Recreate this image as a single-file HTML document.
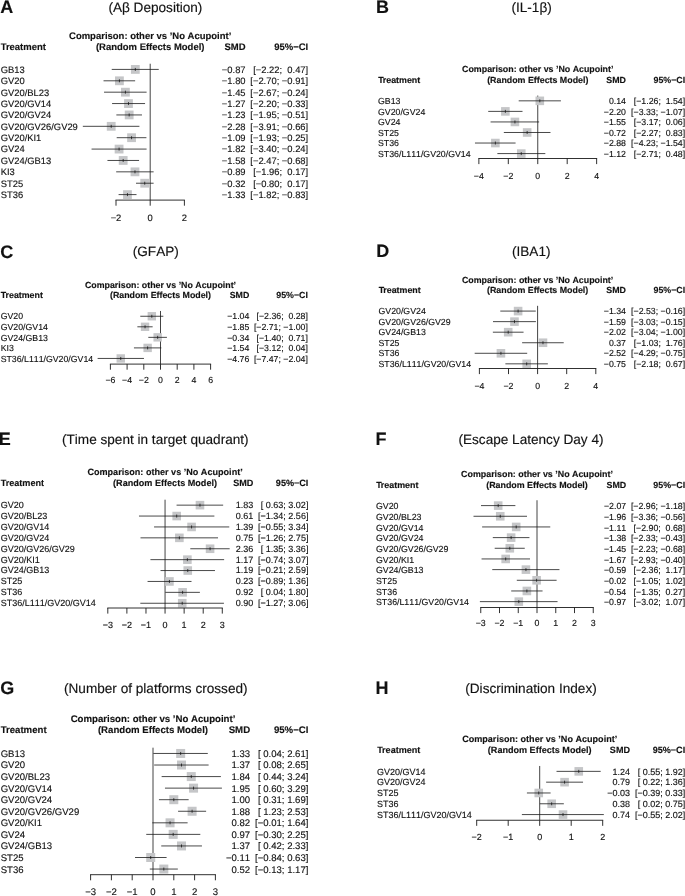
<!DOCTYPE html>
<html lang="en">
<head>
<meta charset="utf-8">
<title>Forest plots: acupoint comparisons vs No Acupoint</title>
<style>
html,body{margin:0;padding:0;background:#fff;}
body{width:685px;height:896px;overflow:hidden;}
svg{display:block;font-family:"Liberation Sans",sans-serif;fill:#111;}
svg text{white-space:pre;text-rendering:geometricPrecision;font-kerning:none;font-variant-ligatures:none;stroke:#111;stroke-width:0.14px;stroke-linejoin:round;}
</style>
</head>
<body>
<svg width="685" height="896" viewBox="0 0 685 896">
<rect x="0" y="0" width="685" height="896" fill="#ffffff"/>
<g style="will-change:opacity">
<g font-size="9.4">
<text x="0.2" y="12.9" font-size="18" font-weight="bold">A</text>
<text x="155.4" y="12" font-size="13.6" text-anchor="middle">(Aβ Deposition)</text>
<g font-weight="bold" font-size="9.49">
<text x="150.2" y="38.66" text-anchor="middle">Comparison: other vs ’No Acupoint’</text>
<text x="150.2" y="50.04" text-anchor="middle">(Random Effects Model)</text>
<text x="0.85" y="50.04">T<tspan dx="-0.08em">reatment</tspan></text>
<text x="245.6" y="50.04" text-anchor="end">SMD</text>
<text x="308.2" y="50.04" text-anchor="end">95%−CI</text>
</g>
<line x1="150.2" y1="63.73" x2="150.2" y2="200.1" stroke="#444" stroke-width="1"/>
<text x="0.7" y="72.8">GB13</text>
<text x="245.6" y="72.8" text-anchor="end">−0.87</text>
<text x="308.2" y="72.8" text-anchor="end" xml:space="preserve">[−2.22;  0.47]</text>
<rect x="130.92" y="65.02" width="8.8" height="8.8" fill="#c5c6c8"/>
<line x1="112.24" y1="69.42" x2="158.24" y2="69.42" stroke="#1a1a1a" stroke-width="0.8" stroke-linecap="square"/>
<line x1="135.32" y1="67.92" x2="135.32" y2="70.92" stroke="#111" stroke-width="0.75"/>
<text x="0.7" y="84.18">GV20</text>
<text x="245.6" y="84.18" text-anchor="end">−1.80</text>
<text x="308.2" y="84.18" text-anchor="end" xml:space="preserve">[−2.70; −0.91]</text>
<rect x="115.02" y="76.4" width="8.8" height="8.8" fill="#c5c6c8"/>
<line x1="104.03" y1="80.8" x2="134.64" y2="80.8" stroke="#1a1a1a" stroke-width="0.8" stroke-linecap="square"/>
<line x1="119.42" y1="79.3" x2="119.42" y2="82.3" stroke="#111" stroke-width="0.75"/>
<text x="0.7" y="95.56">GV20/BL23</text>
<text x="245.6" y="95.56" text-anchor="end">−1.45</text>
<text x="308.2" y="95.56" text-anchor="end" xml:space="preserve">[−2.67; −0.24]</text>
<rect x="121" y="87.78" width="8.8" height="8.8" fill="#c5c6c8"/>
<line x1="104.54" y1="92.18" x2="146.1" y2="92.18" stroke="#1a1a1a" stroke-width="0.8" stroke-linecap="square"/>
<line x1="125.4" y1="90.68" x2="125.4" y2="93.68" stroke="#111" stroke-width="0.75"/>
<text x="0.7" y="106.94">GV20/GV14</text>
<text x="245.6" y="106.94" text-anchor="end">−1.27</text>
<text x="308.2" y="106.94" text-anchor="end" xml:space="preserve">[−2.20; −0.33]</text>
<rect x="124.08" y="99.16" width="8.8" height="8.8" fill="#c5c6c8"/>
<line x1="112.58" y1="103.56" x2="144.56" y2="103.56" stroke="#1a1a1a" stroke-width="0.8" stroke-linecap="square"/>
<line x1="128.48" y1="102.06" x2="128.48" y2="105.06" stroke="#111" stroke-width="0.75"/>
<text x="0.7" y="118.32">GV20/GV24</text>
<text x="245.6" y="118.32" text-anchor="end">−1.23</text>
<text x="308.2" y="118.32" text-anchor="end" xml:space="preserve">[−1.95; −0.51]</text>
<rect x="124.77" y="110.54" width="8.8" height="8.8" fill="#c5c6c8"/>
<line x1="116.85" y1="114.94" x2="141.48" y2="114.94" stroke="#1a1a1a" stroke-width="0.8" stroke-linecap="square"/>
<line x1="129.17" y1="113.44" x2="129.17" y2="116.44" stroke="#111" stroke-width="0.75"/>
<text x="0.7" y="129.7">GV20/GV26/GV29</text>
<text x="245.6" y="129.7" text-anchor="end">−2.28</text>
<text x="308.2" y="129.7" text-anchor="end" xml:space="preserve">[−3.91; −0.66]</text>
<rect x="106.81" y="121.92" width="8.8" height="8.8" fill="#c5c6c8"/>
<line x1="83.34" y1="126.32" x2="138.91" y2="126.32" stroke="#1a1a1a" stroke-width="0.8" stroke-linecap="square"/>
<line x1="111.21" y1="124.82" x2="111.21" y2="127.82" stroke="#111" stroke-width="0.75"/>
<text x="0.7" y="141.08">GV20/KI1</text>
<text x="245.6" y="141.08" text-anchor="end">−1.09</text>
<text x="308.2" y="141.08" text-anchor="end" xml:space="preserve">[−1.93; −0.25]</text>
<rect x="127.16" y="133.3" width="8.8" height="8.8" fill="#c5c6c8"/>
<line x1="117.2" y1="137.7" x2="145.92" y2="137.7" stroke="#1a1a1a" stroke-width="0.8" stroke-linecap="square"/>
<line x1="131.56" y1="136.2" x2="131.56" y2="139.2" stroke="#111" stroke-width="0.75"/>
<text x="0.7" y="152.46">GV24</text>
<text x="245.6" y="152.46" text-anchor="end">−1.82</text>
<text x="308.2" y="152.46" text-anchor="end" xml:space="preserve">[−3.40; −0.24]</text>
<rect x="114.68" y="144.68" width="8.8" height="8.8" fill="#c5c6c8"/>
<line x1="92.06" y1="149.08" x2="146.1" y2="149.08" stroke="#1a1a1a" stroke-width="0.8" stroke-linecap="square"/>
<line x1="119.08" y1="147.58" x2="119.08" y2="150.58" stroke="#111" stroke-width="0.75"/>
<text x="0.7" y="163.84">GV24/GB13</text>
<text x="245.6" y="163.84" text-anchor="end">−1.58</text>
<text x="308.2" y="163.84" text-anchor="end" xml:space="preserve">[−2.47; −0.68]</text>
<rect x="118.78" y="156.06" width="8.8" height="8.8" fill="#c5c6c8"/>
<line x1="107.96" y1="160.46" x2="138.57" y2="160.46" stroke="#1a1a1a" stroke-width="0.8" stroke-linecap="square"/>
<line x1="123.18" y1="158.96" x2="123.18" y2="161.96" stroke="#111" stroke-width="0.75"/>
<text x="0.7" y="175.22">KI3</text>
<text x="245.6" y="175.22" text-anchor="end">−0.89</text>
<text x="308.2" y="175.22" text-anchor="end" xml:space="preserve">[−1.96;  0.17]</text>
<rect x="130.58" y="167.44" width="8.8" height="8.8" fill="#c5c6c8"/>
<line x1="116.68" y1="171.84" x2="153.11" y2="171.84" stroke="#1a1a1a" stroke-width="0.8" stroke-linecap="square"/>
<line x1="134.98" y1="170.34" x2="134.98" y2="173.34" stroke="#111" stroke-width="0.75"/>
<text x="0.7" y="186.6">ST25</text>
<text x="245.6" y="186.6" text-anchor="end">−0.32</text>
<text x="308.2" y="186.6" text-anchor="end" xml:space="preserve">[−0.80;  0.17]</text>
<rect x="140.33" y="178.82" width="8.8" height="8.8" fill="#c5c6c8"/>
<line x1="136.52" y1="183.22" x2="153.11" y2="183.22" stroke="#1a1a1a" stroke-width="0.8" stroke-linecap="square"/>
<line x1="144.73" y1="181.72" x2="144.73" y2="184.72" stroke="#111" stroke-width="0.75"/>
<text x="0.7" y="197.98">ST36</text>
<text x="245.6" y="197.98" text-anchor="end">−1.33</text>
<text x="308.2" y="197.98" text-anchor="end" xml:space="preserve">[−1.82; −0.83]</text>
<rect x="123.06" y="190.2" width="8.8" height="8.8" fill="#c5c6c8"/>
<line x1="119.08" y1="194.6" x2="136.01" y2="194.6" stroke="#1a1a1a" stroke-width="0.8" stroke-linecap="square"/>
<line x1="127.46" y1="193.1" x2="127.46" y2="196.1" stroke="#111" stroke-width="0.75"/>
<g stroke="#1a1a1a" stroke-width="0.9" fill="none">
<line x1="116" y1="200.1" x2="184.4" y2="200.1" stroke-linecap="square"/>
<line x1="116" y1="200.1" x2="116" y2="205.7"/>
<line x1="150.2" y1="200.1" x2="150.2" y2="205.7"/>
<line x1="184.4" y1="200.1" x2="184.4" y2="205.7"/>
</g>
<text x="116" y="220.5" text-anchor="middle">−2</text>
<text x="150.2" y="220.5" text-anchor="middle">0</text>
<text x="184.4" y="220.5" text-anchor="middle">2</text>
</g>
<g font-size="8.77">
<text x="376" y="12.9" font-size="18" font-weight="bold">B</text>
<text x="531.6" y="11.7" font-size="13.6" text-anchor="middle">(IL-1β)</text>
<g font-weight="bold" font-size="8.86">
<text x="537.75" y="72.35" text-anchor="middle">Comparison: other vs ’No Acupoint’</text>
<text x="537.75" y="82.9" text-anchor="middle">(Random Effects Model)</text>
<text x="378.15" y="82.9">T<tspan dx="-0.08em">reatment</tspan></text>
<text x="626" y="82.9" text-anchor="end">SMD</text>
<text x="685.2" y="82.9" text-anchor="end">95%−CI</text>
</g>
<line x1="537.75" y1="95.57" x2="537.75" y2="158.5" stroke="#444" stroke-width="1"/>
<text x="378" y="104">GB13</text>
<text x="626" y="104" text-anchor="end">0.14</text>
<text x="685.2" y="104" text-anchor="end" xml:space="preserve">[−1.26;  1.54]</text>
<rect x="535.51" y="96.54" width="8.6" height="8.6" fill="#c5c6c8"/>
<line x1="519.2" y1="100.84" x2="560.42" y2="100.84" stroke="#1a1a1a" stroke-width="0.8" stroke-linecap="square"/>
<line x1="539.81" y1="99.34" x2="539.81" y2="102.34" stroke="#111" stroke-width="0.75"/>
<text x="378" y="114.55">GV20/GV24</text>
<text x="626" y="114.55" text-anchor="end">−2.20</text>
<text x="685.2" y="114.55" text-anchor="end" xml:space="preserve">[−3.33; −1.07]</text>
<rect x="501.07" y="107.09" width="8.6" height="8.6" fill="#c5c6c8"/>
<line x1="488.73" y1="111.39" x2="522" y2="111.39" stroke="#1a1a1a" stroke-width="0.8" stroke-linecap="square"/>
<line x1="505.37" y1="109.89" x2="505.37" y2="112.89" stroke="#111" stroke-width="0.75"/>
<text x="378" y="125.1">GV24</text>
<text x="626" y="125.1" text-anchor="end">−1.55</text>
<text x="685.2" y="125.1" text-anchor="end" xml:space="preserve">[−3.17;  0.06]</text>
<rect x="510.63" y="117.64" width="8.6" height="8.6" fill="#c5c6c8"/>
<line x1="491.09" y1="121.94" x2="538.63" y2="121.94" stroke="#1a1a1a" stroke-width="0.8" stroke-linecap="square"/>
<line x1="514.93" y1="120.44" x2="514.93" y2="123.44" stroke="#111" stroke-width="0.75"/>
<text x="378" y="135.65">ST25</text>
<text x="626" y="135.65" text-anchor="end">−0.72</text>
<text x="685.2" y="135.65" text-anchor="end" xml:space="preserve">[−2.27;  0.83]</text>
<rect x="522.85" y="128.19" width="8.6" height="8.6" fill="#c5c6c8"/>
<line x1="504.34" y1="132.49" x2="549.97" y2="132.49" stroke="#1a1a1a" stroke-width="0.8" stroke-linecap="square"/>
<line x1="527.15" y1="130.99" x2="527.15" y2="133.99" stroke="#111" stroke-width="0.75"/>
<text x="378" y="146.2">ST36</text>
<text x="626" y="146.2" text-anchor="end">−2.88</text>
<text x="685.2" y="146.2" text-anchor="end" xml:space="preserve">[−4.23; −1.54]</text>
<rect x="491.06" y="138.74" width="8.6" height="8.6" fill="#c5c6c8"/>
<line x1="475.48" y1="143.04" x2="515.08" y2="143.04" stroke="#1a1a1a" stroke-width="0.8" stroke-linecap="square"/>
<line x1="495.36" y1="141.54" x2="495.36" y2="144.54" stroke="#111" stroke-width="0.75"/>
<text x="378" y="156.75">ST36/L111/GV20/GV14</text>
<text x="626" y="156.75" text-anchor="end">−1.12</text>
<text x="685.2" y="156.75" text-anchor="end" xml:space="preserve">[−2.71;  0.48]</text>
<rect x="516.96" y="149.29" width="8.6" height="8.6" fill="#c5c6c8"/>
<line x1="497.86" y1="153.59" x2="544.82" y2="153.59" stroke="#1a1a1a" stroke-width="0.8" stroke-linecap="square"/>
<line x1="521.26" y1="152.09" x2="521.26" y2="155.09" stroke="#111" stroke-width="0.75"/>
<g stroke="#1a1a1a" stroke-width="0.9" fill="none">
<line x1="478.87" y1="158.5" x2="596.63" y2="158.5" stroke-linecap="square"/>
<line x1="478.87" y1="158.5" x2="478.87" y2="164.1"/>
<line x1="508.31" y1="158.5" x2="508.31" y2="164.1"/>
<line x1="537.75" y1="158.5" x2="537.75" y2="164.1"/>
<line x1="567.19" y1="158.5" x2="567.19" y2="164.1"/>
<line x1="596.63" y1="158.5" x2="596.63" y2="164.1"/>
</g>
<text x="478.87" y="179" text-anchor="middle">−4</text>
<text x="508.31" y="179" text-anchor="middle">−2</text>
<text x="537.75" y="179" text-anchor="middle">0</text>
<text x="567.19" y="179" text-anchor="middle">2</text>
<text x="596.63" y="179" text-anchor="middle">4</text>
</g>
<g font-size="8.75">
<text x="0.2" y="257.5" font-size="18" font-weight="bold">C</text>
<text x="155.8" y="256.2" font-size="13.6" text-anchor="middle">(GFAP)</text>
<g font-weight="bold" font-size="8.84">
<text x="160.5" y="287.75" text-anchor="middle">Comparison: other vs ’No Acupoint’</text>
<text x="160.5" y="298.3" text-anchor="middle">(Random Effects Model)</text>
<text x="0.85" y="298.3">T<tspan dx="-0.08em">reatment</tspan></text>
<text x="249.3" y="298.3" text-anchor="end">SMD</text>
<text x="307.9" y="298.3" text-anchor="end">95%−CI</text>
</g>
<line x1="160.5" y1="310.98" x2="160.5" y2="364.1" stroke="#444" stroke-width="1"/>
<text x="0.7" y="319.4">GV20</text>
<text x="249.3" y="319.4" text-anchor="end">−1.04</text>
<text x="307.9" y="319.4" text-anchor="end" xml:space="preserve">[−2.36;  0.28]</text>
<rect x="147.62" y="312.05" width="8.4" height="8.4" fill="#c5c6c8"/>
<line x1="140.79" y1="316.25" x2="162.84" y2="316.25" stroke="#1a1a1a" stroke-width="0.8" stroke-linecap="square"/>
<line x1="151.82" y1="314.75" x2="151.82" y2="317.75" stroke="#111" stroke-width="0.75"/>
<text x="0.7" y="329.95">GV20/GV14</text>
<text x="249.3" y="329.95" text-anchor="end">−1.85</text>
<text x="307.9" y="329.95" text-anchor="end" xml:space="preserve">[−2.71; −1.00]</text>
<rect x="140.85" y="322.6" width="8.4" height="8.4" fill="#c5c6c8"/>
<line x1="137.87" y1="326.8" x2="152.15" y2="326.8" stroke="#1a1a1a" stroke-width="0.8" stroke-linecap="square"/>
<line x1="145.05" y1="325.3" x2="145.05" y2="328.3" stroke="#111" stroke-width="0.75"/>
<text x="0.7" y="340.5">GV24/GB13</text>
<text x="249.3" y="340.5" text-anchor="end">−0.34</text>
<text x="307.9" y="340.5" text-anchor="end" xml:space="preserve">[−1.40;  0.71]</text>
<rect x="153.46" y="333.15" width="8.4" height="8.4" fill="#c5c6c8"/>
<line x1="148.81" y1="337.35" x2="166.43" y2="337.35" stroke="#1a1a1a" stroke-width="0.8" stroke-linecap="square"/>
<line x1="157.66" y1="335.85" x2="157.66" y2="338.85" stroke="#111" stroke-width="0.75"/>
<text x="0.7" y="351.05">KI3</text>
<text x="249.3" y="351.05" text-anchor="end">−1.54</text>
<text x="307.9" y="351.05" text-anchor="end" xml:space="preserve">[−3.12;  0.04]</text>
<rect x="143.44" y="343.7" width="8.4" height="8.4" fill="#c5c6c8"/>
<line x1="134.45" y1="347.9" x2="160.83" y2="347.9" stroke="#1a1a1a" stroke-width="0.8" stroke-linecap="square"/>
<line x1="147.64" y1="346.4" x2="147.64" y2="349.4" stroke="#111" stroke-width="0.75"/>
<text x="0.7" y="361.6">ST36/L111/GV20/GV14</text>
<text x="249.3" y="361.6" text-anchor="end">−4.76</text>
<text x="307.9" y="361.6" text-anchor="end" xml:space="preserve">[−7.47; −2.04]</text>
<rect x="116.55" y="354.25" width="8.4" height="8.4" fill="#c5c6c8"/>
<line x1="98.13" y1="358.45" x2="143.47" y2="358.45" stroke="#1a1a1a" stroke-width="0.8" stroke-linecap="square"/>
<line x1="120.75" y1="356.95" x2="120.75" y2="359.95" stroke="#111" stroke-width="0.75"/>
<g stroke="#1a1a1a" stroke-width="0.9" fill="none">
<line x1="110.4" y1="364.1" x2="210.6" y2="364.1" stroke-linecap="square"/>
<line x1="110.4" y1="364.1" x2="110.4" y2="369.7"/>
<line x1="127.1" y1="364.1" x2="127.1" y2="369.7"/>
<line x1="143.8" y1="364.1" x2="143.8" y2="369.7"/>
<line x1="160.5" y1="364.1" x2="160.5" y2="369.7"/>
<line x1="177.2" y1="364.1" x2="177.2" y2="369.7"/>
<line x1="193.9" y1="364.1" x2="193.9" y2="369.7"/>
<line x1="210.6" y1="364.1" x2="210.6" y2="369.7"/>
</g>
<text x="110.4" y="383.3" text-anchor="middle">−6</text>
<text x="127.1" y="383.3" text-anchor="middle">−4</text>
<text x="143.8" y="383.3" text-anchor="middle">−2</text>
<text x="160.5" y="383.3" text-anchor="middle">0</text>
<text x="177.2" y="383.3" text-anchor="middle">2</text>
<text x="193.9" y="383.3" text-anchor="middle">4</text>
<text x="210.6" y="383.3" text-anchor="middle">6</text>
</g>
<g font-size="8.77">
<text x="376.2" y="257.2" font-size="18" font-weight="bold">D</text>
<text x="531.25" y="256.25" font-size="13.6" text-anchor="middle">(IBA1)</text>
<g font-weight="bold" font-size="8.86">
<text x="537.6" y="282.6" text-anchor="middle">Comparison: other vs ’No Acupoint’</text>
<text x="537.6" y="293.15" text-anchor="middle">(Random Effects Model)</text>
<text x="378.65" y="293.15">T<tspan dx="-0.08em">reatment</tspan></text>
<text x="626" y="293.15" text-anchor="end">SMD</text>
<text x="685.2" y="293.15" text-anchor="end">95%−CI</text>
</g>
<line x1="537.6" y1="305.82" x2="537.6" y2="368.5" stroke="#444" stroke-width="1"/>
<text x="378.5" y="314.25">GV20/GV24</text>
<text x="626" y="314.25" text-anchor="end">−1.34</text>
<text x="685.2" y="314.25" text-anchor="end" xml:space="preserve">[−2.53; −0.16]</text>
<rect x="513.8" y="306.79" width="8.6" height="8.6" fill="#c5c6c8"/>
<line x1="500.79" y1="311.09" x2="535.27" y2="311.09" stroke="#1a1a1a" stroke-width="0.8" stroke-linecap="square"/>
<line x1="518.1" y1="309.59" x2="518.1" y2="312.59" stroke="#111" stroke-width="0.75"/>
<text x="378.5" y="324.8">GV20/GV26/GV29</text>
<text x="626" y="324.8" text-anchor="end">−1.59</text>
<text x="685.2" y="324.8" text-anchor="end" xml:space="preserve">[−3.03; −0.15]</text>
<rect x="510.17" y="317.34" width="8.6" height="8.6" fill="#c5c6c8"/>
<line x1="493.51" y1="321.64" x2="535.42" y2="321.64" stroke="#1a1a1a" stroke-width="0.8" stroke-linecap="square"/>
<line x1="514.47" y1="320.14" x2="514.47" y2="323.14" stroke="#111" stroke-width="0.75"/>
<text x="378.5" y="335.35">GV24/GB13</text>
<text x="626" y="335.35" text-anchor="end">−2.02</text>
<text x="685.2" y="335.35" text-anchor="end" xml:space="preserve">[−3.04; −1.00]</text>
<rect x="503.91" y="327.89" width="8.6" height="8.6" fill="#c5c6c8"/>
<line x1="493.37" y1="332.19" x2="523.05" y2="332.19" stroke="#1a1a1a" stroke-width="0.8" stroke-linecap="square"/>
<line x1="508.21" y1="330.69" x2="508.21" y2="333.69" stroke="#111" stroke-width="0.75"/>
<text x="378.5" y="345.9">ST25</text>
<text x="626" y="345.9" text-anchor="end">0.37</text>
<text x="685.2" y="345.9" text-anchor="end" xml:space="preserve">[−1.03;  1.76]</text>
<rect x="538.68" y="338.44" width="8.6" height="8.6" fill="#c5c6c8"/>
<line x1="522.61" y1="342.74" x2="563.21" y2="342.74" stroke="#1a1a1a" stroke-width="0.8" stroke-linecap="square"/>
<line x1="542.98" y1="341.24" x2="542.98" y2="344.24" stroke="#111" stroke-width="0.75"/>
<text x="378.5" y="356.45">ST36</text>
<text x="626" y="356.45" text-anchor="end">−2.52</text>
<text x="685.2" y="356.45" text-anchor="end" xml:space="preserve">[−4.29; −0.75]</text>
<rect x="496.63" y="348.99" width="8.6" height="8.6" fill="#c5c6c8"/>
<line x1="475.18" y1="353.29" x2="526.69" y2="353.29" stroke="#1a1a1a" stroke-width="0.8" stroke-linecap="square"/>
<line x1="500.93" y1="351.79" x2="500.93" y2="354.79" stroke="#111" stroke-width="0.75"/>
<text x="378.5" y="367">ST36/L111/GV20/GV14</text>
<text x="626" y="367" text-anchor="end">−0.75</text>
<text x="685.2" y="367" text-anchor="end" xml:space="preserve">[−2.18;  0.67]</text>
<rect x="522.39" y="359.54" width="8.6" height="8.6" fill="#c5c6c8"/>
<line x1="505.88" y1="363.84" x2="547.35" y2="363.84" stroke="#1a1a1a" stroke-width="0.8" stroke-linecap="square"/>
<line x1="526.69" y1="362.34" x2="526.69" y2="365.34" stroke="#111" stroke-width="0.75"/>
<g stroke="#1a1a1a" stroke-width="0.9" fill="none">
<line x1="479.4" y1="368.5" x2="595.8" y2="368.5" stroke-linecap="square"/>
<line x1="479.4" y1="368.5" x2="479.4" y2="374.1"/>
<line x1="508.5" y1="368.5" x2="508.5" y2="374.1"/>
<line x1="537.6" y1="368.5" x2="537.6" y2="374.1"/>
<line x1="566.7" y1="368.5" x2="566.7" y2="374.1"/>
<line x1="595.8" y1="368.5" x2="595.8" y2="374.1"/>
</g>
<text x="479.4" y="388.8" text-anchor="middle">−4</text>
<text x="508.5" y="388.8" text-anchor="middle">−2</text>
<text x="537.6" y="388.8" text-anchor="middle">0</text>
<text x="566.7" y="388.8" text-anchor="middle">2</text>
<text x="595.8" y="388.8" text-anchor="middle">4</text>
</g>
<g font-size="9">
<text x="-1.2" y="444.7" font-size="18" font-weight="bold">E</text>
<text x="155.3" y="444.4" font-size="13.6" text-anchor="middle">(Time spent in target quadrant)</text>
<g font-weight="bold" font-size="9.09">
<text x="165.05" y="475.4" text-anchor="middle">Comparison: other vs ’No Acupoint’</text>
<text x="165.05" y="486.3" text-anchor="middle">(Random Effects Model)</text>
<text x="0.85" y="486.3">T<tspan dx="-0.08em">reatment</tspan></text>
<text x="253.4" y="486.3" text-anchor="end">SMD</text>
<text x="308.4" y="486.3" text-anchor="end">95%−CI</text>
</g>
<line x1="165.05" y1="499.7" x2="165.05" y2="608" stroke="#444" stroke-width="1"/>
<text x="0.7" y="508">GV20</text>
<text x="253.4" y="508" text-anchor="end">1.83</text>
<text x="308.4" y="508" text-anchor="end" xml:space="preserve">[ 0.63; 3.02]</text>
<rect x="195.67" y="500.85" width="8.6" height="8.6" fill="#c5c6c8"/>
<line x1="177.07" y1="505.15" x2="222.67" y2="505.15" stroke="#1a1a1a" stroke-width="0.8" stroke-linecap="square"/>
<line x1="199.97" y1="503.65" x2="199.97" y2="506.65" stroke="#111" stroke-width="0.75"/>
<text x="0.7" y="518.9">GV20/BL23</text>
<text x="253.4" y="518.9" text-anchor="end">0.61</text>
<text x="308.4" y="518.9" text-anchor="end" xml:space="preserve">[−1.34; 2.56]</text>
<rect x="172.39" y="511.75" width="8.6" height="8.6" fill="#c5c6c8"/>
<line x1="139.48" y1="516.05" x2="213.89" y2="516.05" stroke="#1a1a1a" stroke-width="0.8" stroke-linecap="square"/>
<line x1="176.69" y1="514.55" x2="176.69" y2="517.55" stroke="#111" stroke-width="0.75"/>
<text x="0.7" y="529.8">GV20/GV14</text>
<text x="253.4" y="529.8" text-anchor="end">1.39</text>
<text x="308.4" y="529.8" text-anchor="end" xml:space="preserve">[−0.55; 3.34]</text>
<rect x="187.27" y="522.65" width="8.6" height="8.6" fill="#c5c6c8"/>
<line x1="154.56" y1="526.95" x2="228.78" y2="526.95" stroke="#1a1a1a" stroke-width="0.8" stroke-linecap="square"/>
<line x1="191.57" y1="525.45" x2="191.57" y2="528.45" stroke="#111" stroke-width="0.75"/>
<text x="0.7" y="540.7">GV20/GV24</text>
<text x="253.4" y="540.7" text-anchor="end">0.75</text>
<text x="308.4" y="540.7" text-anchor="end" xml:space="preserve">[−1.26; 2.75]</text>
<rect x="175.06" y="533.55" width="8.6" height="8.6" fill="#c5c6c8"/>
<line x1="141.01" y1="537.85" x2="217.52" y2="537.85" stroke="#1a1a1a" stroke-width="0.8" stroke-linecap="square"/>
<line x1="179.36" y1="536.35" x2="179.36" y2="539.35" stroke="#111" stroke-width="0.75"/>
<text x="0.7" y="551.6">GV20/GV26/GV29</text>
<text x="253.4" y="551.6" text-anchor="end">2.36</text>
<text x="308.4" y="551.6" text-anchor="end" xml:space="preserve">[ 1.35; 3.36]</text>
<rect x="205.78" y="544.45" width="8.6" height="8.6" fill="#c5c6c8"/>
<line x1="190.81" y1="548.75" x2="229.16" y2="548.75" stroke="#1a1a1a" stroke-width="0.8" stroke-linecap="square"/>
<line x1="210.08" y1="547.25" x2="210.08" y2="550.25" stroke="#111" stroke-width="0.75"/>
<text x="0.7" y="562.5">GV20/KI1</text>
<text x="253.4" y="562.5" text-anchor="end">1.17</text>
<text x="308.4" y="562.5" text-anchor="end" xml:space="preserve">[−0.74; 3.07]</text>
<rect x="183.07" y="555.35" width="8.6" height="8.6" fill="#c5c6c8"/>
<line x1="150.93" y1="559.65" x2="223.63" y2="559.65" stroke="#1a1a1a" stroke-width="0.8" stroke-linecap="square"/>
<line x1="187.37" y1="558.15" x2="187.37" y2="561.15" stroke="#111" stroke-width="0.75"/>
<text x="0.7" y="573.4">GV24/GB13</text>
<text x="253.4" y="573.4" text-anchor="end">1.19</text>
<text x="308.4" y="573.4" text-anchor="end" xml:space="preserve">[−0.21; 2.59]</text>
<rect x="183.46" y="566.25" width="8.6" height="8.6" fill="#c5c6c8"/>
<line x1="161.04" y1="570.55" x2="214.47" y2="570.55" stroke="#1a1a1a" stroke-width="0.8" stroke-linecap="square"/>
<line x1="187.76" y1="569.05" x2="187.76" y2="572.05" stroke="#111" stroke-width="0.75"/>
<text x="0.7" y="584.3">ST25</text>
<text x="253.4" y="584.3" text-anchor="end">0.23</text>
<text x="308.4" y="584.3" text-anchor="end" xml:space="preserve">[−0.89; 1.36]</text>
<rect x="165.14" y="577.15" width="8.6" height="8.6" fill="#c5c6c8"/>
<line x1="148.07" y1="581.45" x2="191" y2="581.45" stroke="#1a1a1a" stroke-width="0.8" stroke-linecap="square"/>
<line x1="169.44" y1="579.95" x2="169.44" y2="582.95" stroke="#111" stroke-width="0.75"/>
<text x="0.7" y="595.2">ST36</text>
<text x="253.4" y="595.2" text-anchor="end">0.92</text>
<text x="308.4" y="595.2" text-anchor="end" xml:space="preserve">[ 0.04; 1.80]</text>
<rect x="178.3" y="588.05" width="8.6" height="8.6" fill="#c5c6c8"/>
<line x1="165.81" y1="592.35" x2="199.39" y2="592.35" stroke="#1a1a1a" stroke-width="0.8" stroke-linecap="square"/>
<line x1="182.6" y1="590.85" x2="182.6" y2="593.85" stroke="#111" stroke-width="0.75"/>
<text x="0.7" y="606.1">ST36/L111/GV20/GV14</text>
<text x="253.4" y="606.1" text-anchor="end">0.90</text>
<text x="308.4" y="606.1" text-anchor="end" xml:space="preserve">[−1.27; 3.06]</text>
<rect x="177.92" y="598.95" width="8.6" height="8.6" fill="#c5c6c8"/>
<line x1="140.82" y1="603.25" x2="223.43" y2="603.25" stroke="#1a1a1a" stroke-width="0.8" stroke-linecap="square"/>
<line x1="182.22" y1="601.75" x2="182.22" y2="604.75" stroke="#111" stroke-width="0.75"/>
<g stroke="#1a1a1a" stroke-width="0.9" fill="none">
<line x1="107.81" y1="608" x2="222.29" y2="608" stroke-linecap="square"/>
<line x1="107.81" y1="608" x2="107.81" y2="613.6"/>
<line x1="126.89" y1="608" x2="126.89" y2="613.6"/>
<line x1="145.97" y1="608" x2="145.97" y2="613.6"/>
<line x1="165.05" y1="608" x2="165.05" y2="613.6"/>
<line x1="184.13" y1="608" x2="184.13" y2="613.6"/>
<line x1="203.21" y1="608" x2="203.21" y2="613.6"/>
<line x1="222.29" y1="608" x2="222.29" y2="613.6"/>
</g>
<text x="107.81" y="628" text-anchor="middle">−3</text>
<text x="126.89" y="628" text-anchor="middle">−2</text>
<text x="145.97" y="628" text-anchor="middle">−1</text>
<text x="165.05" y="628" text-anchor="middle">0</text>
<text x="184.13" y="628" text-anchor="middle">1</text>
<text x="203.21" y="628" text-anchor="middle">2</text>
<text x="222.29" y="628" text-anchor="middle">3</text>
</g>
<g font-size="8.8">
<text x="375.6" y="444.9" font-size="18" font-weight="bold">F</text>
<text x="531" y="444" font-size="13.6" text-anchor="middle">(Escape Latency Day 4)</text>
<g font-weight="bold" font-size="8.89">
<text x="537" y="476.8" text-anchor="middle">Comparison: other vs ’No Acupoint’</text>
<text x="537" y="487.8" text-anchor="middle">(Random Effects Model)</text>
<text x="376.15" y="487.8">T<tspan dx="-0.08em">reatment</tspan></text>
<text x="626.25" y="487.8" text-anchor="end">SMD</text>
<text x="685.2" y="487.8" text-anchor="end">95%−CI</text>
</g>
<line x1="537" y1="500.26" x2="537" y2="607.5" stroke="#444" stroke-width="1"/>
<text x="376" y="509.2">GV20</text>
<text x="626.25" y="509.2" text-anchor="end">−2.07</text>
<text x="685.2" y="509.2" text-anchor="end" xml:space="preserve">[−2.96; −1.18]</text>
<rect x="493.89" y="501.3" width="8.6" height="8.6" fill="#c5c6c8"/>
<line x1="481.5" y1="505.6" x2="514.88" y2="505.6" stroke="#1a1a1a" stroke-width="0.8" stroke-linecap="square"/>
<line x1="498.19" y1="504.1" x2="498.19" y2="507.1" stroke="#111" stroke-width="0.75"/>
<text x="376" y="519.87">GV20/BL23</text>
<text x="626.25" y="519.87" text-anchor="end">−1.96</text>
<text x="685.2" y="519.87" text-anchor="end" xml:space="preserve">[−3.36; −0.56]</text>
<rect x="495.95" y="511.97" width="8.6" height="8.6" fill="#c5c6c8"/>
<line x1="474" y1="516.27" x2="526.5" y2="516.27" stroke="#1a1a1a" stroke-width="0.8" stroke-linecap="square"/>
<line x1="500.25" y1="514.77" x2="500.25" y2="517.77" stroke="#111" stroke-width="0.75"/>
<text x="376" y="530.54">GV20/GV14</text>
<text x="626.25" y="530.54" text-anchor="end">−1.11</text>
<text x="685.2" y="530.54" text-anchor="end" xml:space="preserve">[−2.90;  0.68]</text>
<rect x="511.89" y="522.64" width="8.6" height="8.6" fill="#c5c6c8"/>
<line x1="482.62" y1="526.94" x2="549.75" y2="526.94" stroke="#1a1a1a" stroke-width="0.8" stroke-linecap="square"/>
<line x1="516.19" y1="525.44" x2="516.19" y2="528.44" stroke="#111" stroke-width="0.75"/>
<text x="376" y="541.21">GV20/GV24</text>
<text x="626.25" y="541.21" text-anchor="end">−1.38</text>
<text x="685.2" y="541.21" text-anchor="end" xml:space="preserve">[−2.33; −0.43]</text>
<rect x="506.82" y="533.31" width="8.6" height="8.6" fill="#c5c6c8"/>
<line x1="493.31" y1="537.61" x2="528.94" y2="537.61" stroke="#1a1a1a" stroke-width="0.8" stroke-linecap="square"/>
<line x1="511.12" y1="536.11" x2="511.12" y2="539.11" stroke="#111" stroke-width="0.75"/>
<text x="376" y="551.88">GV20/GV26/GV29</text>
<text x="626.25" y="551.88" text-anchor="end">−1.45</text>
<text x="685.2" y="551.88" text-anchor="end" xml:space="preserve">[−2.23; −0.68]</text>
<rect x="505.51" y="543.98" width="8.6" height="8.6" fill="#c5c6c8"/>
<line x1="495.19" y1="548.28" x2="524.25" y2="548.28" stroke="#1a1a1a" stroke-width="0.8" stroke-linecap="square"/>
<line x1="509.81" y1="546.78" x2="509.81" y2="549.78" stroke="#111" stroke-width="0.75"/>
<text x="376" y="562.55">GV20/KI1</text>
<text x="626.25" y="562.55" text-anchor="end">−1.67</text>
<text x="685.2" y="562.55" text-anchor="end" xml:space="preserve">[−2.93; −0.40]</text>
<rect x="501.39" y="554.65" width="8.6" height="8.6" fill="#c5c6c8"/>
<line x1="482.06" y1="558.95" x2="529.5" y2="558.95" stroke="#1a1a1a" stroke-width="0.8" stroke-linecap="square"/>
<line x1="505.69" y1="557.45" x2="505.69" y2="560.45" stroke="#111" stroke-width="0.75"/>
<text x="376" y="573.22">GV24/GB13</text>
<text x="626.25" y="573.22" text-anchor="end">−0.59</text>
<text x="685.2" y="573.22" text-anchor="end" xml:space="preserve">[−2.36;  1.17]</text>
<rect x="521.64" y="565.32" width="8.6" height="8.6" fill="#c5c6c8"/>
<line x1="492.75" y1="569.62" x2="558.94" y2="569.62" stroke="#1a1a1a" stroke-width="0.8" stroke-linecap="square"/>
<line x1="525.94" y1="568.12" x2="525.94" y2="571.12" stroke="#111" stroke-width="0.75"/>
<text x="376" y="583.89">ST25</text>
<text x="626.25" y="583.89" text-anchor="end">−0.02</text>
<text x="685.2" y="583.89" text-anchor="end" xml:space="preserve">[−1.05;  1.02]</text>
<rect x="532.33" y="575.99" width="8.6" height="8.6" fill="#c5c6c8"/>
<line x1="517.31" y1="580.29" x2="556.12" y2="580.29" stroke="#1a1a1a" stroke-width="0.8" stroke-linecap="square"/>
<line x1="536.62" y1="578.79" x2="536.62" y2="581.79" stroke="#111" stroke-width="0.75"/>
<text x="376" y="594.56">ST36</text>
<text x="626.25" y="594.56" text-anchor="end">−0.54</text>
<text x="685.2" y="594.56" text-anchor="end" xml:space="preserve">[−1.35;  0.27]</text>
<rect x="522.58" y="586.66" width="8.6" height="8.6" fill="#c5c6c8"/>
<line x1="511.69" y1="590.96" x2="542.06" y2="590.96" stroke="#1a1a1a" stroke-width="0.8" stroke-linecap="square"/>
<line x1="526.88" y1="589.46" x2="526.88" y2="592.46" stroke="#111" stroke-width="0.75"/>
<text x="376" y="605.23">ST36/L111/GV20/GV14</text>
<text x="626.25" y="605.23" text-anchor="end">−0.97</text>
<text x="685.2" y="605.23" text-anchor="end" xml:space="preserve">[−3.02;  1.07]</text>
<rect x="514.51" y="597.33" width="8.6" height="8.6" fill="#c5c6c8"/>
<line x1="480.38" y1="601.63" x2="557.06" y2="601.63" stroke="#1a1a1a" stroke-width="0.8" stroke-linecap="square"/>
<line x1="518.81" y1="600.13" x2="518.81" y2="603.13" stroke="#111" stroke-width="0.75"/>
<g stroke="#1a1a1a" stroke-width="0.9" fill="none">
<line x1="480.75" y1="607.5" x2="593.25" y2="607.5" stroke-linecap="square"/>
<line x1="480.75" y1="607.5" x2="480.75" y2="613.1"/>
<line x1="499.5" y1="607.5" x2="499.5" y2="613.1"/>
<line x1="518.25" y1="607.5" x2="518.25" y2="613.1"/>
<line x1="537" y1="607.5" x2="537" y2="613.1"/>
<line x1="555.75" y1="607.5" x2="555.75" y2="613.1"/>
<line x1="574.5" y1="607.5" x2="574.5" y2="613.1"/>
<line x1="593.25" y1="607.5" x2="593.25" y2="613.1"/>
</g>
<text x="480.75" y="626" text-anchor="middle">−3</text>
<text x="499.5" y="626" text-anchor="middle">−2</text>
<text x="518.25" y="626" text-anchor="middle">−1</text>
<text x="537" y="626" text-anchor="middle">0</text>
<text x="555.75" y="626" text-anchor="middle">1</text>
<text x="574.5" y="626" text-anchor="middle">2</text>
<text x="593.25" y="626" text-anchor="middle">3</text>
</g>
<g font-size="9.55">
<text x="0.2" y="693.8" font-size="18" font-weight="bold">G</text>
<text x="155.8" y="693.2" font-size="13.6" text-anchor="middle">(Number of platforms crossed)</text>
<g font-weight="bold" font-size="9.65">
<text x="153" y="721.8" text-anchor="middle">Comparison: other vs ’No Acupoint’</text>
<text x="153" y="733.3" text-anchor="middle">(Random Effects Model)</text>
<text x="0.85" y="733.3">T<tspan dx="-0.08em">reatment</tspan></text>
<text x="250.1" y="733.3" text-anchor="end">SMD</text>
<text x="308.4" y="733.3" text-anchor="end">95%−CI</text>
</g>
<line x1="153" y1="747.68" x2="153" y2="874.7" stroke="#444" stroke-width="1"/>
<text x="0.7" y="756.9">GB13</text>
<text x="250.1" y="756.9" text-anchor="end">1.33</text>
<text x="308.4" y="756.9" text-anchor="end" xml:space="preserve">[ 0.04; 2.61]</text>
<rect x="176.16" y="748.96" width="9" height="9" fill="#c5c6c8"/>
<line x1="153.83" y1="753.46" x2="207.29" y2="753.46" stroke="#1a1a1a" stroke-width="0.8" stroke-linecap="square"/>
<line x1="180.66" y1="751.96" x2="180.66" y2="754.96" stroke="#111" stroke-width="0.75"/>
<text x="0.7" y="768.46">GV20</text>
<text x="250.1" y="768.46" text-anchor="end">1.37</text>
<text x="308.4" y="768.46" text-anchor="end" xml:space="preserve">[ 0.08; 2.65]</text>
<rect x="177" y="760.52" width="9" height="9" fill="#c5c6c8"/>
<line x1="154.66" y1="765.02" x2="208.12" y2="765.02" stroke="#1a1a1a" stroke-width="0.8" stroke-linecap="square"/>
<line x1="181.5" y1="763.52" x2="181.5" y2="766.52" stroke="#111" stroke-width="0.75"/>
<text x="0.7" y="780.02">GV20/BL23</text>
<text x="250.1" y="780.02" text-anchor="end">1.84</text>
<text x="308.4" y="780.02" text-anchor="end" xml:space="preserve">[ 0.44; 3.24]</text>
<rect x="186.77" y="772.08" width="9" height="9" fill="#c5c6c8"/>
<line x1="162.15" y1="776.58" x2="220.39" y2="776.58" stroke="#1a1a1a" stroke-width="0.8" stroke-linecap="square"/>
<line x1="191.27" y1="775.08" x2="191.27" y2="778.08" stroke="#111" stroke-width="0.75"/>
<text x="0.7" y="791.58">GV20/GV14</text>
<text x="250.1" y="791.58" text-anchor="end">1.95</text>
<text x="308.4" y="791.58" text-anchor="end" xml:space="preserve">[ 0.60; 3.29]</text>
<rect x="189.06" y="783.64" width="9" height="9" fill="#c5c6c8"/>
<line x1="165.48" y1="788.14" x2="221.43" y2="788.14" stroke="#1a1a1a" stroke-width="0.8" stroke-linecap="square"/>
<line x1="193.56" y1="786.64" x2="193.56" y2="789.64" stroke="#111" stroke-width="0.75"/>
<text x="0.7" y="803.14">GV20/GV24</text>
<text x="250.1" y="803.14" text-anchor="end">1.00</text>
<text x="308.4" y="803.14" text-anchor="end" xml:space="preserve">[ 0.31; 1.69]</text>
<rect x="169.3" y="795.2" width="9" height="9" fill="#c5c6c8"/>
<line x1="159.45" y1="799.7" x2="188.15" y2="799.7" stroke="#1a1a1a" stroke-width="0.8" stroke-linecap="square"/>
<line x1="173.8" y1="798.2" x2="173.8" y2="801.2" stroke="#111" stroke-width="0.75"/>
<text x="0.7" y="814.7">GV20/GV26/GV29</text>
<text x="250.1" y="814.7" text-anchor="end">1.88</text>
<text x="308.4" y="814.7" text-anchor="end" xml:space="preserve">[ 1.23; 2.53]</text>
<rect x="187.6" y="806.76" width="9" height="9" fill="#c5c6c8"/>
<line x1="178.58" y1="811.26" x2="205.62" y2="811.26" stroke="#1a1a1a" stroke-width="0.8" stroke-linecap="square"/>
<line x1="192.1" y1="809.76" x2="192.1" y2="812.76" stroke="#111" stroke-width="0.75"/>
<text x="0.7" y="826.26">GV20/KI1</text>
<text x="250.1" y="826.26" text-anchor="end">0.82</text>
<text x="308.4" y="826.26" text-anchor="end" xml:space="preserve">[−0.01; 1.64]</text>
<rect x="165.56" y="818.32" width="9" height="9" fill="#c5c6c8"/>
<line x1="152.79" y1="822.82" x2="187.11" y2="822.82" stroke="#1a1a1a" stroke-width="0.8" stroke-linecap="square"/>
<line x1="170.06" y1="821.32" x2="170.06" y2="824.32" stroke="#111" stroke-width="0.75"/>
<text x="0.7" y="837.82">GV24</text>
<text x="250.1" y="837.82" text-anchor="end">0.97</text>
<text x="308.4" y="837.82" text-anchor="end" xml:space="preserve">[−0.30; 2.25]</text>
<rect x="168.68" y="829.88" width="9" height="9" fill="#c5c6c8"/>
<line x1="146.76" y1="834.38" x2="199.8" y2="834.38" stroke="#1a1a1a" stroke-width="0.8" stroke-linecap="square"/>
<line x1="173.18" y1="832.88" x2="173.18" y2="835.88" stroke="#111" stroke-width="0.75"/>
<text x="0.7" y="849.38">GV24/GB13</text>
<text x="250.1" y="849.38" text-anchor="end">1.37</text>
<text x="308.4" y="849.38" text-anchor="end" xml:space="preserve">[ 0.42; 2.33]</text>
<rect x="177" y="841.44" width="9" height="9" fill="#c5c6c8"/>
<line x1="161.74" y1="845.94" x2="201.46" y2="845.94" stroke="#1a1a1a" stroke-width="0.8" stroke-linecap="square"/>
<line x1="181.5" y1="844.44" x2="181.5" y2="847.44" stroke="#111" stroke-width="0.75"/>
<text x="0.7" y="860.94">ST25</text>
<text x="250.1" y="860.94" text-anchor="end">−0.11</text>
<text x="308.4" y="860.94" text-anchor="end" xml:space="preserve">[−0.84; 0.63]</text>
<rect x="146.21" y="853" width="9" height="9" fill="#c5c6c8"/>
<line x1="135.53" y1="857.5" x2="166.1" y2="857.5" stroke="#1a1a1a" stroke-width="0.8" stroke-linecap="square"/>
<line x1="150.71" y1="856" x2="150.71" y2="859" stroke="#111" stroke-width="0.75"/>
<text x="0.7" y="872.5">ST36</text>
<text x="250.1" y="872.5" text-anchor="end">0.52</text>
<text x="308.4" y="872.5" text-anchor="end" xml:space="preserve">[−0.13; 1.17]</text>
<rect x="159.32" y="864.56" width="9" height="9" fill="#c5c6c8"/>
<line x1="150.3" y1="869.06" x2="177.34" y2="869.06" stroke="#1a1a1a" stroke-width="0.8" stroke-linecap="square"/>
<line x1="163.82" y1="867.56" x2="163.82" y2="870.56" stroke="#111" stroke-width="0.75"/>
<g stroke="#1a1a1a" stroke-width="0.9" fill="none">
<line x1="90.6" y1="874.7" x2="215.4" y2="874.7" stroke-linecap="square"/>
<line x1="90.6" y1="874.7" x2="90.6" y2="880.3"/>
<line x1="111.4" y1="874.7" x2="111.4" y2="880.3"/>
<line x1="132.2" y1="874.7" x2="132.2" y2="880.3"/>
<line x1="153" y1="874.7" x2="153" y2="880.3"/>
<line x1="173.8" y1="874.7" x2="173.8" y2="880.3"/>
<line x1="194.6" y1="874.7" x2="194.6" y2="880.3"/>
<line x1="215.4" y1="874.7" x2="215.4" y2="880.3"/>
</g>
<text x="90.6" y="894.5" text-anchor="middle">−3</text>
<text x="111.4" y="894.5" text-anchor="middle">−2</text>
<text x="132.2" y="894.5" text-anchor="middle">−1</text>
<text x="153" y="894.5" text-anchor="middle">0</text>
<text x="173.8" y="894.5" text-anchor="middle">1</text>
<text x="194.6" y="894.5" text-anchor="middle">2</text>
<text x="215.4" y="894.5" text-anchor="middle">3</text>
</g>
<g font-size="8.98">
<text x="375.6" y="694" font-size="18" font-weight="bold">H</text>
<text x="531" y="693.25" font-size="13.6" text-anchor="middle">(Discrimination Index)</text>
<g font-weight="bold" font-size="9.07">
<text x="539.7" y="742.2" text-anchor="middle">Comparison: other vs ’No Acupoint’</text>
<text x="539.7" y="753" text-anchor="middle">(Random Effects Model)</text>
<text x="377.25" y="753">T<tspan dx="-0.08em">reatment</tspan></text>
<text x="630" y="753" text-anchor="end">SMD</text>
<text x="685.2" y="753" text-anchor="end">95%−CI</text>
</g>
<line x1="539.7" y1="765.97" x2="539.7" y2="820.25" stroke="#444" stroke-width="1"/>
<text x="377.1" y="774.6">GV20/GV14</text>
<text x="630" y="774.6" text-anchor="end">1.24</text>
<text x="685.2" y="774.6" text-anchor="end" xml:space="preserve">[ 0.55; 1.92]</text>
<rect x="574.46" y="767.07" width="8.6" height="8.6" fill="#c5c6c8"/>
<line x1="557.03" y1="771.37" x2="600.18" y2="771.37" stroke="#1a1a1a" stroke-width="0.8" stroke-linecap="square"/>
<line x1="578.76" y1="769.87" x2="578.76" y2="772.87" stroke="#111" stroke-width="0.75"/>
<text x="377.1" y="785.4">GV20/GV24</text>
<text x="630" y="785.4" text-anchor="end">0.79</text>
<text x="685.2" y="785.4" text-anchor="end" xml:space="preserve">[ 0.22; 1.36]</text>
<rect x="560.29" y="777.87" width="8.6" height="8.6" fill="#c5c6c8"/>
<line x1="546.63" y1="782.17" x2="582.54" y2="782.17" stroke="#1a1a1a" stroke-width="0.8" stroke-linecap="square"/>
<line x1="564.59" y1="780.67" x2="564.59" y2="783.67" stroke="#111" stroke-width="0.75"/>
<text x="377.1" y="796.2">ST25</text>
<text x="630" y="796.2" text-anchor="end">−0.03</text>
<text x="685.2" y="796.2" text-anchor="end" xml:space="preserve">[−0.39; 0.33]</text>
<rect x="534.46" y="788.67" width="8.6" height="8.6" fill="#c5c6c8"/>
<line x1="527.42" y1="792.97" x2="550.1" y2="792.97" stroke="#1a1a1a" stroke-width="0.8" stroke-linecap="square"/>
<line x1="538.75" y1="791.47" x2="538.75" y2="794.47" stroke="#111" stroke-width="0.75"/>
<text x="377.1" y="807">ST36</text>
<text x="630" y="807" text-anchor="end">0.38</text>
<text x="685.2" y="807" text-anchor="end" xml:space="preserve">[ 0.02; 0.75]</text>
<rect x="547.37" y="799.47" width="8.6" height="8.6" fill="#c5c6c8"/>
<line x1="540.33" y1="803.77" x2="563.33" y2="803.77" stroke="#1a1a1a" stroke-width="0.8" stroke-linecap="square"/>
<line x1="551.67" y1="802.27" x2="551.67" y2="805.27" stroke="#111" stroke-width="0.75"/>
<text x="377.1" y="817.8">ST36/L111/GV20/GV14</text>
<text x="630" y="817.8" text-anchor="end">0.74</text>
<text x="685.2" y="817.8" text-anchor="end" xml:space="preserve">[−0.55; 2.02]</text>
<rect x="558.71" y="810.27" width="8.6" height="8.6" fill="#c5c6c8"/>
<line x1="522.38" y1="814.57" x2="603.33" y2="814.57" stroke="#1a1a1a" stroke-width="0.8" stroke-linecap="square"/>
<line x1="563.01" y1="813.07" x2="563.01" y2="816.07" stroke="#111" stroke-width="0.75"/>
<g stroke="#1a1a1a" stroke-width="0.9" fill="none">
<line x1="476.7" y1="820.25" x2="602.7" y2="820.25" stroke-linecap="square"/>
<line x1="476.7" y1="820.25" x2="476.7" y2="825.85"/>
<line x1="508.2" y1="820.25" x2="508.2" y2="825.85"/>
<line x1="539.7" y1="820.25" x2="539.7" y2="825.85"/>
<line x1="571.2" y1="820.25" x2="571.2" y2="825.85"/>
<line x1="602.7" y1="820.25" x2="602.7" y2="825.85"/>
</g>
<text x="476.7" y="839.5" text-anchor="middle">−2</text>
<text x="508.2" y="839.5" text-anchor="middle">−1</text>
<text x="539.7" y="839.5" text-anchor="middle">0</text>
<text x="571.2" y="839.5" text-anchor="middle">1</text>
<text x="602.7" y="839.5" text-anchor="middle">2</text>
</g>
</g>
</svg>
</body>
</html>
